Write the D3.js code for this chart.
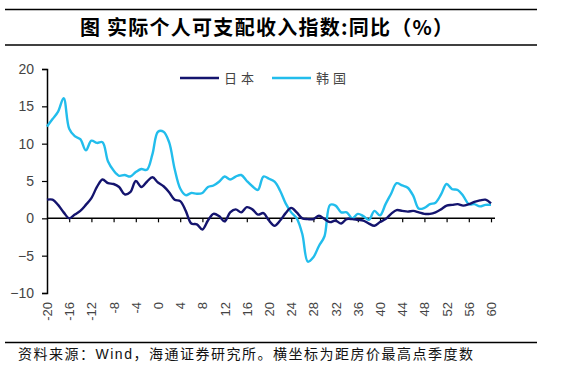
<!DOCTYPE html>
<html>
<head>
<meta charset="utf-8">
<script src="https://d3js.org/d3.v7.min.js"></script>
<style>
  body { margin: 0; background: #fff; }
  svg { display: block; }
</style>
</head>
<body>
<script>
'use strict';

// quarters from the house price peak
let quarters = d3.range(-20, 61);

// real disposable income yoy, Japan
let japan = [2.5, 2.5, 1.8, 0.8, 0.0, 0.5, 1.0, 1.8, 2.7, 4.2,
  5.2, 4.7, 4.6, 4.2, 3.2, 3.5, 5.0, 4.2, 4.9, 5.5,
  4.8, 4.3, 3.5, 2.5, 2.3, 1.0, -0.7, -0.8, -1.5, -0.3,
  0.6, 0.3, -0.4, 0.8, 1.2, 0.8, 1.5, 1.2, 0.5, 0.7,
  -0.3, -1.0, -0.3, 0.7, 1.4, 0.8, 0.0, -0.1, -0.1, 0.35,
  -0.1, -0.5, -0.3, -0.7, -0.1, -0.1, -0.2, -0.3, -0.7, -1.0,
  -0.5, -0.1, 0.6, 1.1, 1.0, 0.9, 1.0, 0.8, 0.6, 0.6,
  0.8, 1.2, 1.7, 1.8, 1.9, 1.7, 1.9, 2.2, 2.4, 2.5, 2.0];

// real disposable income yoy, Korea
let korea = [12.3, 13.3, 14.3, 16.1, 12.0, 11.0, 10.6, 9.1, 10.4, 10.1,
  10.2, 7.6, 6.4, 5.7, 5.8, 5.6, 6.2, 6.6, 6.5, 8.6,
  11.6, 11.6, 10.2, 6.6, 4.0, 3.1, 3.4, 3.3, 3.4, 4.2,
  4.4, 4.9, 5.6, 5.2, 5.6, 5.8, 5.0, 4.3, 3.8, 5.6,
  5.3, 4.9, 3.7, 2.0, 0.8, 0.0, -2.1, -5.8, -5.2, -3.7,
  -2.4, 1.8, 1.7, 0.8, 0.8, 0.0, 0.6, 0.3, -0.2, 1.0,
  0.4, 1.9, 3.3, 4.7, 4.4, 4.1, 3.0, 1.3, 1.4, 1.9,
  2.1, 3.2, 4.6, 3.9, 3.8, 3.0, 1.9, 1.9, 1.6, 1.8, 1.8];

let yTicks = [-10, -5, 0, 5, 10, 15, 20];
let xTicks = d3.range(-20, 61, 4);
let seriesNames = ['日本', '韩国'];
let seriesColors = ['#14146e', '#22bdec'];

let title = '图 实际个人可支配收入指数:同比（%）';
let source = '资料来源：Wind，海通证券研究所。横坐标为距房价最高点季度数';

let svg = null;

window.onload = function() {
  svg = d3.select('body')
    .append('svg')
    .attr('width', 573)
    .attr('height', 374);

  drawFrame();
  let scales = drawAxes();
  plotLines(scales);
  drawLegend();
};

// title and source with the rules round them
function drawFrame() {
  [9.5, 45, 342.5].forEach((y) => {
    svg.append('line')
      .attr('x1', 5).attr('x2', 537)
      .attr('y1', y).attr('y2', y)
      .attr('stroke', '#000')
      .attr('stroke-width', 1.3);
  });

  svg.append('text')
    .attr('x', 80)
    .attr('y', 35)
    .attr('textLength', 373)
    .attr('lengthAdjust', 'spacing')
    .style('font-family', '"Noto Sans CJK SC", sans-serif')
    .style('font-weight', 'bold')
    .style('font-size', '20px')
    .text(title);

  svg.append('text')
    .attr('x', 18)
    .attr('y', 359)
    .attr('textLength', 455)
    .attr('lengthAdjust', 'spacing')
    .style('font-family', '"Liberation Sans", "Noto Sans CJK SC", sans-serif')
    .style('font-size', '14px')
    .attr('fill', '#111')
    .text(source);
}

// axes, ticks and labels; return the scales
function drawAxes() {
  let xScale = d3.scaleLinear()
    .domain([-20, 60])
    .range([47, 491]);

  let yScale = d3.scaleLinear()
    .domain([-10, 20])
    .range([293, 69]);

  // y axis on the left
  let yAxis = d3.axisLeft(yScale)
    .tickValues(yTicks)
    .tickSize(5)
    .tickPadding(8);
  let gy = svg.append('g')
    .attr('transform', 'translate(' + xScale(-20) + ',0)')
    .call(yAxis);
  gy.select('.domain').attr('stroke', '#000').attr('stroke-width', 1.5);
  gy.selectAll('.tick line').attr('stroke', '#000').attr('stroke-width', 1.2);
  gy.selectAll('.tick text')
    .style('font-family', '"Liberation Sans", Arial, sans-serif')
    .style('font-size', '14px')
    .attr('fill', '#444');

  // x axis through zero, labels at the bottom
  let xAxis = d3.axisBottom(xScale)
    .tickValues(xTicks.filter((d) => d > -20))
    .tickSize(4)
    .tickSizeOuter(0)
    .tickFormat('');
  let gx = svg.append('g')
    .attr('transform', 'translate(0,' + yScale(0) + ')')
    .call(xAxis);
  gx.select('.domain')
    .attr('d', 'M' + xScale(-20) + ',0H' + (xScale(60) + 4))
    .attr('stroke', '#000').attr('stroke-width', 1.5);
  gx.selectAll('.tick line').attr('stroke', '#000').attr('stroke-width', 1.2);

  svg.append('g')
    .selectAll('text')
    .data(xTicks)
    .enter()
    .append('text')
    .attr('transform', (d) => 'translate(' + (xScale(d) + 5) + ',302) rotate(-90)')
    .attr('text-anchor', 'end')
    .style('font-family', '"Liberation Sans", Arial, sans-serif')
    .style('font-size', '13px')
    .attr('fill', '#444')
    .text((d) => d);

  return { x: xScale, y: yScale };
}

// draw both series as smooth lines
function plotLines(s) {
  let line = (vals) => d3.line()
    .x((d, i) => s.x(quarters[i]))
    .y((d) => s.y(d))
    .curve(d3.curveCatmullRom.alpha(0.5))(vals);

  [korea, japan].forEach((vals, k) => {
    svg.append('path')
      .attr('d', line(vals))
      .attr('fill', 'none')
      .attr('stroke', k === 0 ? seriesColors[1] : seriesColors[0])
      .attr('stroke-width', 2.4);
  });
}

function drawLegend() {
  let items = [
    { x: 180, name: seriesNames[0], color: seriesColors[0] },
    { x: 272, name: seriesNames[1], color: seriesColors[1] }
  ];
  items.forEach((it) => {
    svg.append('line')
      .attr('x1', it.x).attr('x2', it.x + 39)
      .attr('y1', 78).attr('y2', 78)
      .attr('stroke', it.color)
      .attr('stroke-width', 2.4);
    svg.append('text')
      .attr('x', it.x + 44)
      .attr('y', 83)
      .style('font-family', '"Noto Sans CJK SC", sans-serif')
      .style('font-size', '13px')
      .style('letter-spacing', '4px')
      .attr('fill', '#444')
      .text(it.name);
  });
}
</script>
</body>
</html>
